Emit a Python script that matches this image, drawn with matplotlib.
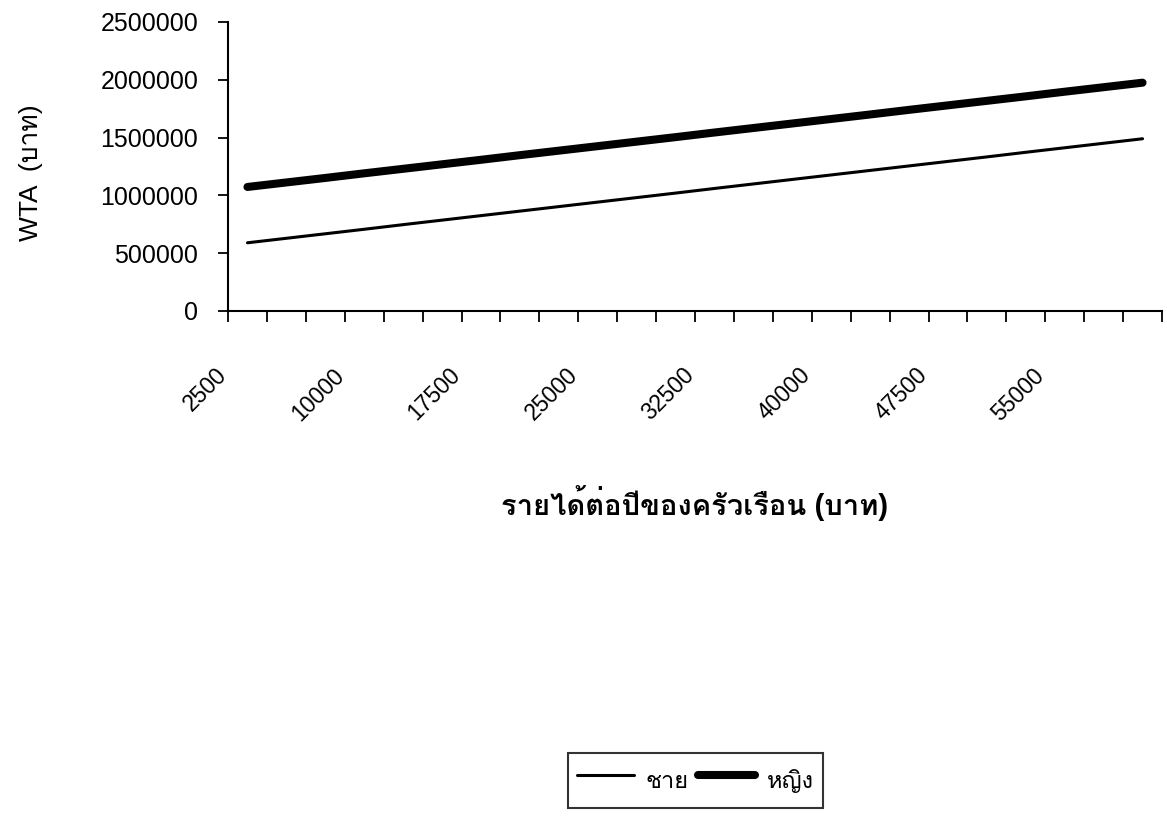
# =========================================
# WTA vs household income (Thai chart)
# =========================================

import numpy as np
import matplotlib
matplotlib.use("Agg")
import matplotlib.pyplot as plt
import matplotlib.transforms as mtransforms
from matplotlib import font_manager
from matplotlib.ft2font import FT2Font

# =========================================
# data
# =========================================

income = [2500, 5000, 7500, 10000, 12500, 15000, 17500, 20000,
          22500, 25000, 27500, 30000, 32500, 35000, 37500, 40000,
          42500, 45000, 47500, 50000, 52500, 55000, 57500, 60000]

wta_male = [590000, 629000, 668000, 707000, 747000, 786000, 825000, 864000,
            903000, 942000, 981000, 1020000, 1060000, 1099000, 1138000, 1177000,
            1216000, 1255000, 1294000, 1333000, 1373000, 1412000, 1451000, 1490000]

wta_female = [1073000, 1112000, 1151000, 1191000, 1230000, 1269000, 1308000, 1348000,
              1387000, 1426000, 1465000, 1504000, 1544000, 1583000, 1622000, 1661000,
              1700000, 1740000, 1779000, 1818000, 1857000, 1897000, 1936000, 1975000]

series_names = ["ชาย", "หญิง"]
y_ticks = [0, 500000, 1000000, 1500000, 2000000, 2500000]

# =========================================
# fonts: find something with Thai glyphs
# =========================================

thai_family = None
for f in font_manager.fontManager.ttflist:
    try:
        cmap = FT2Font(f.fname).get_charmap()
    except Exception:
        continue
    if 0x0E01 in cmap:
        thai_family = f.name
        break

families = ["Liberation Sans"]
if thai_family:
    families.append(thai_family)
families.append("DejaVu Sans")
plt.rcParams["font.family"] = families

# =========================================
# figure
# =========================================

fig = plt.figure(figsize=(11.67, 8.16), dpi=100)
ax = fig.add_axes([228/1167, 1 - 311/816, 934/1167, 289/816])

x = np.arange(len(income))

ax.plot(x, wta_male, color="black", lw=2.2, solid_capstyle="round",
        label=series_names[0])
ax.plot(x, wta_female, color="black", lw=5.8, solid_capstyle="round",
        label=series_names[1])

ax.set_xlim(-0.5, len(income) - 0.5)
ax.set_ylim(0, 2500000)

# y axis
ax.set_yticks(y_ticks)
ax.set_yticklabels([str(v) for v in y_ticks], fontsize=18)
ax.tick_params(axis="y", direction="out", length=7.5, width=1.3, pad=14)

# x axis: tick marks on category edges, labels every 3rd category
ax.set_xticks(np.arange(-0.5, len(income), 1.0), minor=True)
ax.tick_params(axis="x", which="minor", direction="out", length=8, width=1.3)
label_idx = x[::3][:8]
ax.set_xticks(label_idx)
ax.set_xticklabels([str(income[i]) for i in label_idx], fontsize=16.5,
                   rotation=45, ha="right", va="top", rotation_mode="anchor")
ax.tick_params(axis="x", which="major", length=0, pad=38)
shift = mtransforms.ScaledTranslation(-32/100, 0, fig.dpi_scale_trans)
for lab in ax.get_xticklabels():
    lab.set_transform(lab.get_transform() + shift)

for s in ["top", "right"]:
    ax.spines[s].set_visible(False)
for s in ["left", "bottom"]:
    ax.spines[s].set_linewidth(1.5)

ax.set_ylabel("WTA  (บาท)", fontsize=19)
ax.yaxis.set_label_coords(-0.198, 0.48)

# x title, centred under the plot area
fig.text((228 + 1162) / 2 / 1167, 1 - 503/816, "รายได้ต่อปีของครัวเรือน (บาท)",
         ha="center", va="center", fontsize=21, fontweight="bold")

# legend at the bottom
leg = fig.legend(loc="upper left", bbox_to_anchor=(568/1167, 1 - 753/816),
                 ncol=2, fontsize=17, frameon=True, fancybox=False,
                 handlelength=2.4, handleheight=2.0, handletextpad=0.5,
                 columnspacing=0.4, borderpad=0.4, borderaxespad=0)
leg.get_frame().set_edgecolor("black")
leg.get_frame().set_linewidth(1.5)

fig.savefig("out.png", dpi=100)
